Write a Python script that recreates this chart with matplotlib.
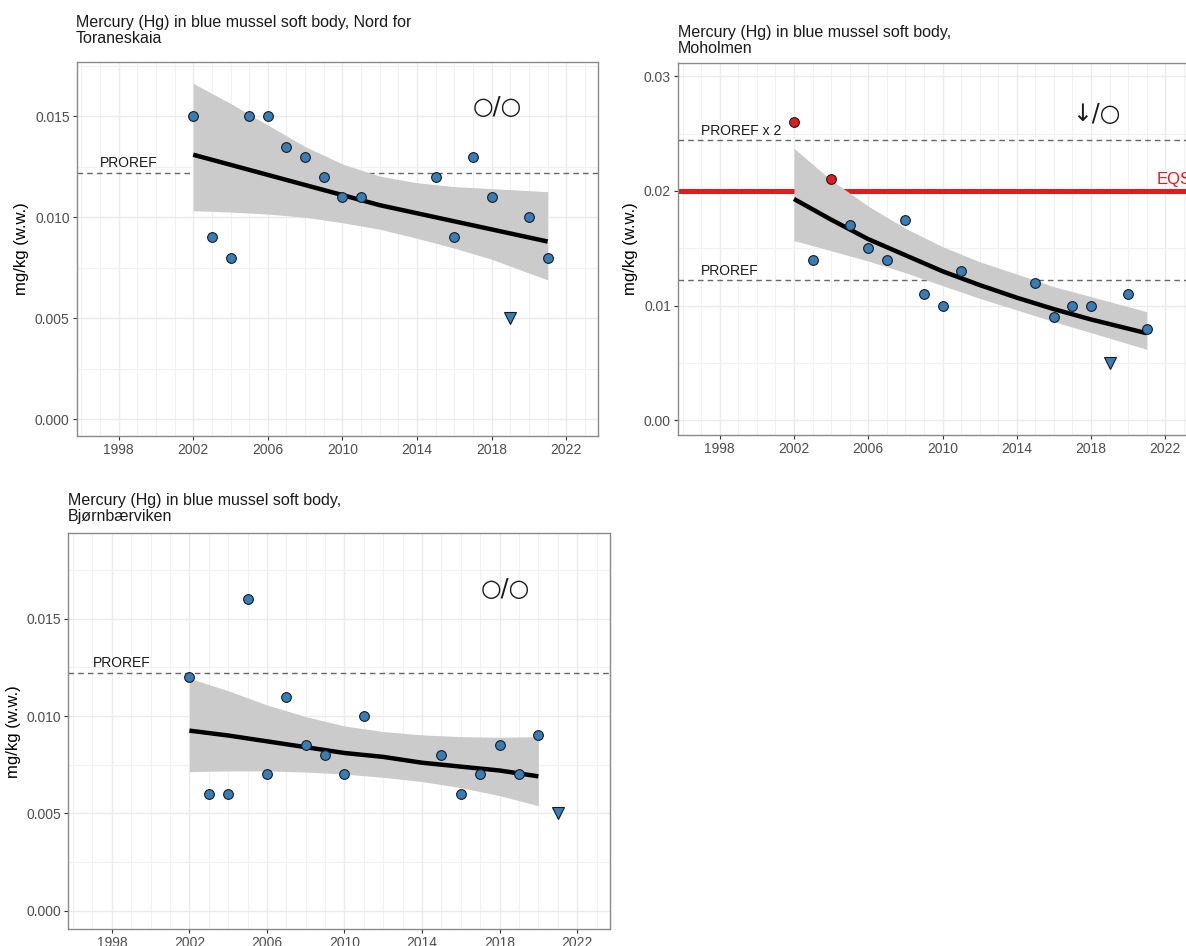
import numpy as np
import matplotlib
matplotlib.use('Agg')
import matplotlib.pyplot as plt
from matplotlib.ticker import MultipleLocator, FixedLocator, FormatStrFormatter

plt.rcParams['font.family'] = ['Liberation Sans', 'DejaVu Sans']

# ---- data ----
years = [2002, 2003, 2004, 2005, 2006, 2007, 2008, 2009, 2010, 2011,
         2015, 2016, 2017, 2018, 2019, 2020, 2021]
year_ticks = [1998, 2002, 2006, 2010, 2014, 2018, 2022]

# Nord for Toraneskaia
tor_hg = [0.015, 0.009, 0.008, 0.015, 0.015, 0.0135, 0.013, 0.012, 0.011, 0.011,
          0.012, 0.009, 0.013, 0.011, 0.005, 0.010, 0.008]
tor_loq = [2019]
tor_fit_years = [2002, 2004, 2006, 2008, 2010, 2012, 2014, 2016, 2018, 2021]
tor_fit = [0.0131, 0.0126, 0.0121, 0.0116, 0.0111, 0.0106, 0.0102, 0.0098, 0.0094, 0.0088]
tor_lo = [0.01033, 0.01026, 0.01016, 0.0100, 0.00973, 0.00941, 0.00896, 0.00847, 0.00792, 0.0069]
tor_hi = [0.01663, 0.01564, 0.01457, 0.0135, 0.01264, 0.01204, 0.01171, 0.01152, 0.01142, 0.01127]

# Moholmen
moh_hg = [0.026, 0.014, 0.021, 0.017, 0.015, 0.014, 0.0175, 0.011, 0.010, 0.013,
          0.012, 0.009, 0.010, 0.010, 0.005, 0.011, 0.008]
moh_loq = [2019]
moh_fit_years = [2002, 2004, 2006, 2008, 2010, 2012, 2014, 2016, 2018, 2021]
moh_fit = [0.0193, 0.0175, 0.0158, 0.0144, 0.0130, 0.0118, 0.0107, 0.0097, 0.0088, 0.0076]
moh_lo = [0.01567, 0.01479, 0.01389, 0.01288, 0.01175, 0.01064, 0.00963, 0.00861, 0.00765, 0.0062]
moh_hi = [0.02371, 0.02095, 0.01868, 0.01674, 0.01514, 0.01383, 0.01276, 0.01166, 0.01079, 0.00948]

# Bjørnbærviken
bjo_hg = [0.012, 0.006, 0.006, 0.016, 0.007, 0.011, 0.0085, 0.008, 0.007, 0.010,
          0.008, 0.006, 0.007, 0.0085, 0.007, 0.009, 0.005]
bjo_loq = [2021]
bjo_fit_years = [2002, 2004, 2006, 2008, 2010, 2012, 2014, 2016, 2018, 2020]
bjo_fit = [0.00925, 0.0090, 0.0087, 0.0084, 0.0081, 0.0079, 0.0076, 0.0074, 0.0072, 0.0069]
bjo_lo = [0.00714, 0.00718, 0.00718, 0.00712, 0.00702, 0.00685, 0.00663, 0.00632, 0.00591, 0.00539]
bjo_hi = [0.01194, 0.0113, 0.01057, 0.00997, 0.00949, 0.0092, 0.00903, 0.00894, 0.00891, 0.00894]

proref = 0.0122
eqs = 0.02

BLUE = '#377eb8'
RED = '#e41a1c'


def panel(ax, hg, loq, fit_years, fit, lo, hi, ylim, ystep, yfmt, trend_txt, trend_y, prorefs):
    ax.set_xlim(1995.75, 2023.7)
    ax.set_ylim(*ylim)
    ax.xaxis.set_major_locator(FixedLocator(year_ticks))
    ax.xaxis.set_minor_locator(MultipleLocator(1))
    ax.yaxis.set_major_locator(MultipleLocator(ystep))
    ax.yaxis.set_minor_locator(MultipleLocator(ystep / 2))
    ax.yaxis.set_major_formatter(FormatStrFormatter(yfmt))
    ax.xaxis.set_major_formatter(FormatStrFormatter('%d'))
    ax.grid(which='major', color='#ebebeb', lw=1.0, zorder=0)
    ax.grid(which='minor', color='#f1f1f1', lw=0.8, zorder=0)
    ax.set_axisbelow(True)
    for s in ax.spines.values():
        s.set_color('#8a8a8a')
        s.set_linewidth(1.0)
    ax.tick_params(which='major', length=3, width=0.8, color='#333333',
                   labelsize=10, labelcolor='#4d4d4d', pad=2)
    ax.tick_params(which='minor', length=0)
    ax.set_ylabel('mg/kg (w.w.)', fontsize=12, labelpad=4)

    for val, lab in prorefs:
        ax.axhline(val, color='#666666', lw=1.0, ls=(0, (4, 3)), zorder=2)
        ax.annotate(lab, (1997.0, val), xytext=(0, 2), textcoords='offset points',
                    fontsize=10, color='#1a1a1a', va='bottom', ha='left')

    ax.fill_between(fit_years, lo, hi, color='#cbcbcb', lw=0, zorder=3)
    ax.plot(fit_years, fit, color='black', lw=3.2, solid_capstyle='butt', zorder=4)

    for y, v in zip(years, hg):
        if y in loq:
            ax.plot(y, v, marker='v', ms=9, mfc=BLUE, mec='#1a1a1a', mew=0.8, zorder=5)
        else:
            c = RED if v > eqs and ylim[1] > 0.025 else BLUE
            ax.plot(y, v, marker='o', ms=7, mfc=c, mec='#1a1a1a', mew=0.8, zorder=5)

    ax.text(2018.3, trend_y, trend_txt, fontsize=17, ha='center', va='center',
            family=['DejaVu Sans'], color='#1a1a1a', zorder=6)


fig = plt.figure(figsize=(11.86, 9.46), dpi=100)
W, H = 1186, 946

ax1 = fig.add_axes([76.6 / W, (H - 436) / H, 521.4 / W, 374 / H])
panel(ax1, tor_hg, tor_loq, tor_fit_years, tor_fit, tor_lo, tor_hi,
      (-0.00083, 0.01769), 0.005, '%.3f', '○/○', 0.01546, [(proref, 'PROREF')])
fig.text(76 / W, 1 - 15 / H, 'Mercury (Hg) in blue mussel soft body, Nord for\nToraneskaia',
         fontsize=11.5, va='top', ha='left', linespacing=1.1, color='#1a1a1a')

ax2 = fig.add_axes([677.9 / W, (H - 435.3) / H, 519 / W, 372.6 / H])
panel(ax2, moh_hg, moh_loq, moh_fit_years, moh_fit, moh_lo, moh_hi,
      (-0.00129, 0.03117), 0.01, '%.2f', '↓/○', 0.0267,
      [(proref * 2, 'PROREF x 2'), (proref, 'PROREF')])
ax2.axhline(eqs, color=RED, lw=3.6, zorder=2)
ax2.annotate('EQS', (2021.55, eqs), xytext=(0, 3), textcoords='offset points',
             fontsize=12, color=RED, va='bottom', ha='left')
fig.text(678 / W, 1 - 25 / H, 'Mercury (Hg) in blue mussel soft body,\nMoholmen',
         fontsize=11.5, va='top', ha='left', linespacing=1.1, color='#1a1a1a')

ax3 = fig.add_axes([68.2 / W, (H - 929.3) / H, 541.9 / W, 396 / H])
panel(ax3, bjo_hg, bjo_loq, bjo_fit_years, bjo_fit, bjo_lo, bjo_hi,
      (-0.00096, 0.01939), 0.005, '%.3f', '○/○', 0.01653, [(proref, 'PROREF')])
fig.text(68 / W, 1 - 493 / H, 'Mercury (Hg) in blue mussel soft body,\nBjørnbærviken',
         fontsize=11.5, va='top', ha='left', linespacing=1.1, color='#1a1a1a')

fig.savefig('out.png', dpi=100)
plt.close(fig)
